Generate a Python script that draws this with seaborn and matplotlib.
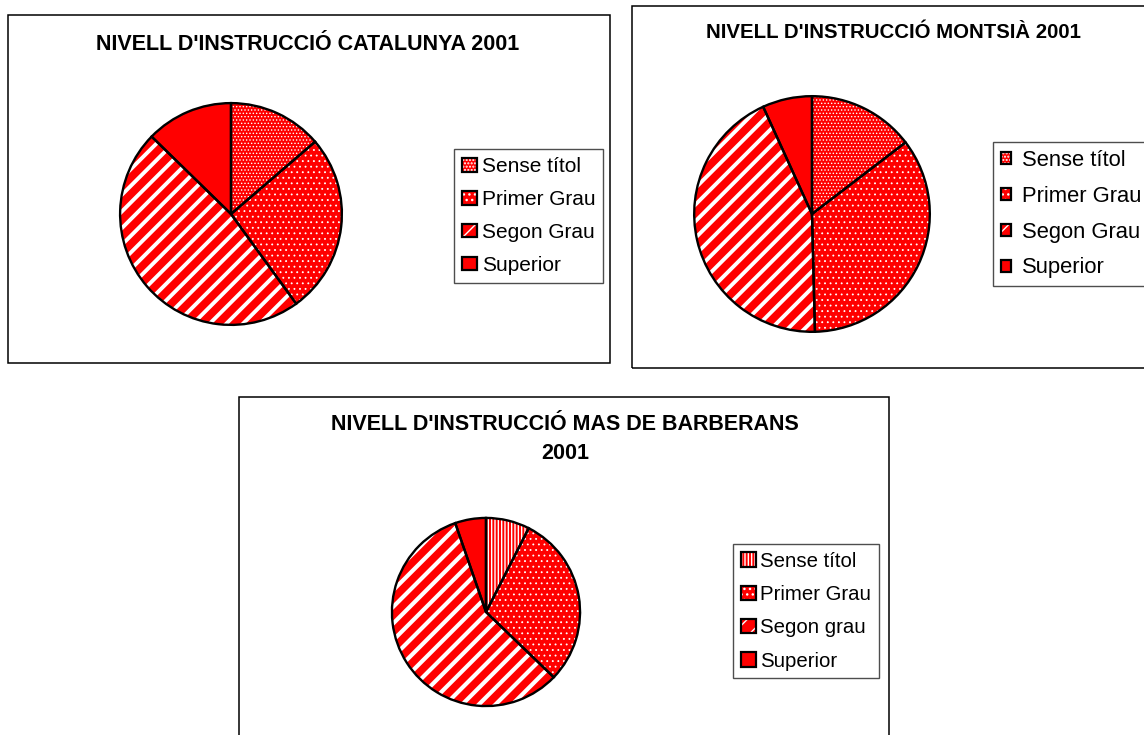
import matplotlib
matplotlib.use("Agg")
import matplotlib.pyplot as plt
import seaborn as sns
from matplotlib.patches import Rectangle, Patch
from matplotlib.legend_handler import HandlerTuple

sns.set_style("white")
plt.rcParams['font.family'] = ['Liberation Sans', 'DejaVu Sans']
plt.rcParams['text.color'] = 'black'

# ---- data ----
cat_labels = ['Sense títol', 'Primer Grau', 'Segon Grau', 'Superior']
cat_values = [13.7, 26.3, 47.3, 12.7]
mont_labels = ['Sense títol', 'Primer Grau', 'Segon Grau', 'Superior']
mont_values = [14.6, 35.0, 43.6, 6.8]
mas_labels = ['Sense títol', 'Primer Grau', 'Segon grau', 'Superior']
mas_values = [7.5, 29.7, 57.5, 5.3]

W, H = 1144, 735
fig = plt.figure(figsize=(W / 100, H / 100), dpi=100)
RED = '#FF0000'


def fx(x):
    return x / W


def fy(y):
    return 1 - y / H


def box(x0, y0, x1, y1):
    fig.patches.append(Rectangle((fx(x0), fy(y1)), fx(x1 - x0), (y1 - y0) / H,
                                 transform=fig.transFigure, fill=False,
                                 edgecolor='black', linewidth=1.1, zorder=0))


def pie(values, labels, cx, cy, r, hatches, hwidths, leg_xy, fontsize,
        hl=0.7, hh=0.65, tp=0.25, ls=0.5, bp=0.4):
    ax = fig.add_axes([fx(cx - r), fy(cy + r), 2 * r / W, 2 * r / H])
    wedges, _ = ax.pie(values, startangle=90, counterclock=False, radius=1,
                       colors=[RED] * len(values),
                       wedgeprops=dict(edgecolor='white', linewidth=0))
    for w, h, lw in zip(wedges, hatches, hwidths):
        w.set_hatch(h)
        if hasattr(w, 'set_hatch_linewidth'):
            w.set_hatch_linewidth(lw)
    ax.pie(values, startangle=90, counterclock=False, radius=1,
           wedgeprops=dict(fill=False, edgecolor='black', linewidth=1.7))
    ax.set_xlim(-1.01, 1.01)
    ax.set_ylim(-1.01, 1.01)
    ax.set_aspect('equal')
    ax.axis('off')
    handles = []
    for h, lw in zip(hatches, hwidths):
        p1 = Patch(facecolor=RED, edgecolor='white', linewidth=0, hatch=h)
        if hasattr(p1, 'set_hatch_linewidth'):
            p1.set_hatch_linewidth(lw)
        p2 = Patch(fill=False, edgecolor='black', linewidth=1.6)
        handles.append((p1, p2))
    leg = fig.legend(handles, labels, loc='upper left',
                     bbox_to_anchor=(fx(leg_xy[0]), fy(leg_xy[1])),
                     bbox_transform=fig.transFigure,
                     handler_map={tuple: HandlerTuple(ndivide=1, pad=0)},
                     frameon=True, fancybox=False, fontsize=fontsize,
                     handlelength=hl, handleheight=hh, handletextpad=tp,
                     labelspacing=ls, borderpad=bp, borderaxespad=0)
    leg.get_frame().set_edgecolor('#222222')
    leg.get_frame().set_linewidth(1.0)
    return ax


# boxes
box(8, 15, 610, 363)
box(632, 6, 1160, 368)
box(239, 397, 889, 760)

# titles
fig.text(fx(308), fy(45), "NIVELL D'INSTRUCCIÓ CATALUNYA 2001", ha='center', va='center',
         fontsize=15.5, fontweight='bold')
fig.text(fx(894), fy(32), "NIVELL D'INSTRUCCIÓ MONTSIÀ 2001", ha='center', va='center',
         fontsize=14.7, fontweight='bold')
fig.text(fx(565), fy(439), "NIVELL D'INSTRUCCIÓ MAS DE BARBERANS\n2001", ha='center', va='center',
         fontsize=15.5, fontweight='bold', linespacing=1.5)

pie(cat_values, cat_labels, 231, 214, 112,
    ['.....', '...', '//', ''], [0.6, 0.6, 2.8, 0.6], (454, 149), 15,
    hl=0.7, hh=0.65, tp=0.25, ls=0.67, bp=0.38)
pie(mont_values, mont_labels, 812, 214, 119,
    ['.....', '...', '//', ''], [0.6, 0.6, 2.8, 0.6], (993, 142), 15.8,
    hl=0.45, hh=0.45, tp=0.5, ls=0.68, bp=0.35)
pie(mas_values, mas_labels, 486, 612, 95,
    ['|||||', '...', '//', ''], [1.0, 0.6, 3.0, 0.6], (733, 544), 14.7,
    hl=0.75, hh=0.7, tp=0.2, ls=0.7, bp=0.38)

fig.savefig('out.png', dpi=100)
